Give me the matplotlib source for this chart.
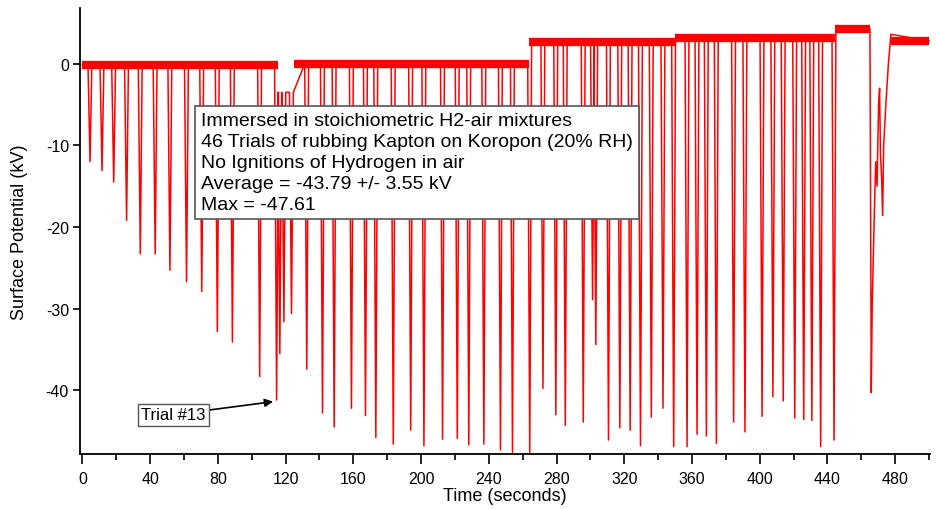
"""
Surface potential trace: 46 rubbing trials of Kapton on Koropon
immersed in stoichiometric H2-air mixtures.
"""

import matplotlib
matplotlib.use("Agg")
import matplotlib.pyplot as plt
from matplotlib.ticker import MultipleLocator

plt.rcParams["font.family"] = ["Liberation Sans", "DejaVu Sans"]
plt.rcParams["axes.unicode_minus"] = False

# spike minima (time in s, potential in kV)
spike_t = [4.5, 11.6, 18.5, 26.1, 34.2, 43.0, 51.7, 61.5, 70.5, 79.7,
           88.6, 104.7, 114.7, 116.6, 119.0, 123.5, 132.5, 141.8, 148.7, 158.9,
           167.2, 173.3, 183.6, 193.9, 201.7, 212.7, 221.4, 228.2, 237.1, 246.9,
           254.0, 264.2, 272.0, 279.6, 285.2, 295.8, 301.3, 303.2, 310.7, 317.4,
           323.5, 329.6, 336.0, 342.9, 349.2, 357.1, 363.0, 368.5, 374.4, 384.6,
           391.3, 401.4, 407.8, 413.9, 420.7, 426.0, 430.8, 436.0, 443.9]
spike_min = [-12.0, -13.1, -14.5, -19.2, -23.3, -23.3, -25.3, -26.7, -27.9, -32.8,
             -34.1, -38.3, -41.2, -35.5, -31.6, -30.6, -37.4, -42.8, -44.5, -42.2,
             -43.1, -45.8, -46.6, -44.9, -46.8, -46.0, -45.9, -46.7, -46.6, -47.3,
             -47.6, -47.6, -39.8, -43.0, -44.3, -43.9, -28.9, -34.4, -46.1, -44.6,
             -44.9, -46.8, -43.3, -42.2, -46.9, -46.9, -45.4, -45.6, -46.5, -43.9,
             -45.1, -43.2, -40.8, -41.3, -43.4, -43.6, -43.7, -46.9, -46.1]

# baseline level between trials (step segments)
base_start = [0.0, 115.3, 125.0, 263.5, 350.0, 444.5, 477.5]
base_end = [115.3, 125.0, 263.5, 350.0, 444.5, 465.1, 500.0]
base_level = [-0.1, -3.5, 0.0, 2.6, 3.2, 4.3, 2.8]

# last trial and its slow, noisy recovery
final_t = [465.1, 465.9, 466.4, 467.5, 468.5, 469.3, 470.2, 470.8, 471.3,
           472.0, 472.6, 473.2, 474.5, 476.0, 477.5]
final_v = [4.3, -40.3, -30.0, -20.0, -12.0, -15.0, -5.0, -3.0, -11.0,
           -14.0, -18.6, -10.0, -5.0, 0.0, 3.6]

info_lines = ["Immersed in stoichiometric H2-air mixtures",
              "46 Trials of rubbing Kapton on Koropon (20% RH)",
              "No Ignitions of Hydrogen in air",
              "Average = -43.79 +/- 3.55 kV",
              "Max = -47.61"]

RED = "#ff0000"


def base_at(t):
    for t0, t1, lvl in zip(base_start, base_end, base_level):
        if t0 <= t < t1:
            return lvl
    return base_level[-1]


def build_trace():
    tt, vv = [0.0], [base_at(0.0)]
    for t, m in zip(spike_t, spike_min):
        tt += [t - 1.2, t, t + 1.1]
        vv += [base_at(t - 1.2), m, base_at(t + 1.1)]
    tt += final_t + [base_end[-1]]
    vv += final_v + [base_level[-1]]
    return tt, vv


fig = plt.figure(figsize=(9.37, 5.10), dpi=100)
ax = fig.add_axes([0.0854, 0.108, 0.907, 0.874])

# noisy baseline shown as a thick band
for t0, t1, lvl in zip(base_start, base_end, base_level):
    if lvl > -1:
        ax.plot([t0, t1], [lvl, lvl], color=RED, lw=6, solid_capstyle="butt", zorder=2)

tt, vv = build_trace()
ax.plot(tt, vv, color=RED, lw=1.1, zorder=3)

ax.set_xlim(-1.4, 500.5)
ax.set_ylim(-47.8, 6.8)
ax.xaxis.set_major_locator(MultipleLocator(40))
ax.xaxis.set_minor_locator(MultipleLocator(20))
ax.set_yticks([-40, -30, -20, -10, 0])

for side in ["top", "right"]:
    ax.spines[side].set_visible(False)
for side in ["left", "bottom"]:
    ax.spines[side].set_linewidth(1.3)

ax.tick_params(axis="x", which="major", direction="out", length=7, width=1.2, labelsize=11.5, pad=5)
ax.tick_params(axis="x", which="minor", direction="out", length=4, width=1.2)
ax.tick_params(axis="y", which="major", direction="out", length=5, width=1.2, labelsize=11.5, pad=3)

ax.set_xlabel("Time (seconds)", fontsize=13, labelpad=1)
ax.set_ylabel("Surface Potential (kV)", fontsize=13, labelpad=13)

ax.text(70.0, -5.9, "\n".join(info_lines), ha="left", va="top", fontsize=14.0,
        linespacing=1.32, zorder=6,
        bbox=dict(boxstyle="square,pad=0.3", facecolor="white",
                  edgecolor="#555555", linewidth=1.2))

ax.annotate("Trial #13", xy=(112.6, -41.4), xytext=(53.6, -43.0),
            ha="center", va="center", fontsize=12, zorder=6,
            bbox=dict(boxstyle="square,pad=0.2", facecolor="white",
                      edgecolor="#555555", linewidth=1.0),
            arrowprops=dict(arrowstyle="-|>", color="black", lw=1.2,
                            shrinkA=0, shrinkB=0, mutation_scale=12))

fig.savefig("out.png", dpi=100)
plt.close(fig)
